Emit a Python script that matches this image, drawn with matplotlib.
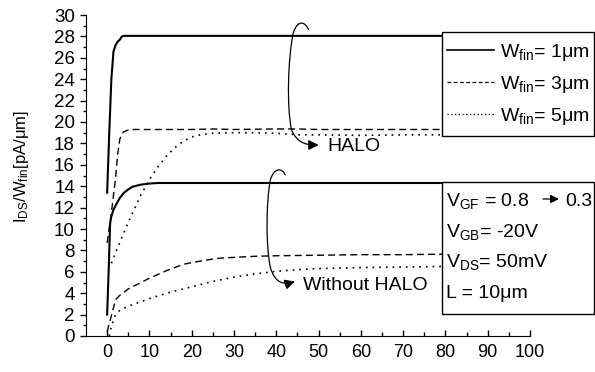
import numpy as np
import matplotlib
matplotlib.use("Agg")
import matplotlib.pyplot as plt
from matplotlib.path import Path
from matplotlib.patches import FancyArrowPatch, Rectangle
from matplotlib.lines import Line2D

plt.rcParams['font.family'] = ['Liberation Sans', 'DejaVu Sans']
plt.rcParams['mathtext.fontset'] = 'custom'
plt.rcParams['mathtext.rm'] = 'Liberation Sans'
plt.rcParams['mathtext.it'] = 'Liberation Sans:italic'
plt.rcParams['mathtext.bf'] = 'Liberation Sans:bold'

# ---------------- data ----------------
# HALO, Wfin = 1 um
halo_w1_x = [0, 0.5, 1, 1.5, 2, 2.5, 3, 3.5, 4, 10, 20, 30, 40, 50, 60, 70, 80]
halo_w1_y = [13.4, 19.0, 24.0, 26.6, 27.2, 27.5, 27.7, 28.0, 28.05, 28.05, 28.05, 28.05, 28.05, 28.05, 28.05, 28.05, 28.05]
# HALO, Wfin = 3 um
halo_w3_x = [0, 1, 2, 2.5, 3, 3.5, 4, 5, 6, 10, 20, 25, 30, 40, 45, 50, 60, 70, 80]
halo_w3_y = [8.7, 11.5, 14.8, 17.0, 18.4, 18.9, 19.1, 19.25, 19.3, 19.3, 19.3, 19.35, 19.3, 19.35, 19.35, 19.3, 19.3, 19.3, 19.3]
# HALO, Wfin = 5 um
halo_w5_x = [1, 2, 4, 6, 8, 10, 12, 14, 16, 18, 20, 22, 25, 30, 35, 40, 45, 50, 60, 70, 80]
halo_w5_y = [6.8, 7.8, 9.7, 11.5, 13.2, 14.6, 15.8, 16.8, 17.6, 18.2, 18.6, 18.8, 18.95, 19.0, 19.0, 18.95, 18.8, 18.8, 18.75, 18.8, 18.8]
# Without HALO, Wfin = 1 um
nohalo_w1_x = [0, 0.35, 0.7, 1, 1.5, 2, 3, 4, 5, 6, 8, 10, 12, 20, 30, 40, 50, 60, 70, 80]
nohalo_w1_y = [2.0, 6.0, 10.5, 11.2, 11.8, 12.2, 12.9, 13.4, 13.7, 13.95, 14.15, 14.25, 14.3, 14.3, 14.3, 14.3, 14.3, 14.3, 14.3, 14.3]
# Without HALO, Wfin = 3 um
nohalo_w3_x = [0, 1, 2, 3, 5, 8, 10, 14, 18, 22, 26, 30, 35, 40, 50, 60, 70, 80]
nohalo_w3_y = [0.4, 1.9, 3.4, 3.8, 4.4, 5.0, 5.4, 6.1, 6.7, 7.0, 7.25, 7.35, 7.45, 7.5, 7.55, 7.6, 7.6, 7.65]
# Without HALO, Wfin = 5 um
nohalo_w5_x = [0.5, 1, 2, 3, 5, 8, 10, 15, 20, 25, 30, 35, 40, 45, 50, 60, 70, 80]
nohalo_w5_y = [0.0, 0.9, 2.0, 2.4, 2.8, 3.2, 3.5, 4.1, 4.6, 5.1, 5.5, 5.8, 6.05, 6.2, 6.3, 6.4, 6.45, 6.5]

legend_labels = [r'W$_{\rm fin}$= 1μm', r'W$_{\rm fin}$= 3μm', r'W$_{\rm fin}$= 5μm']
cond_lines = [r'V$_{\rm GB}$= -20V', r'V$_{\rm DS}$= 50mV', 'L = 10μm']
xticks = list(range(0, 101, 10))
yticks = list(range(0, 31, 2))

# ---------------- figure ----------------
W, H = 595, 372
fig = plt.figure(figsize=(W / 100, H / 100), dpi=100)
fx = lambda px: px / W
fy = lambda py: 1 - py / H
ax = fig.add_axes([fx(86), fy(336), (530 - 86) / W, (336 - 15) / H])

solid = dict(color='black', lw=1.5, ls='-')
dashed = dict(color='black', lw=1.0, ls=(0, (5, 3)))
dotted = dict(color='black', lw=1.2, ls=(0, (1, 3)))

ax.plot(halo_w1_x, halo_w1_y, **solid)
ax.plot(halo_w3_x, halo_w3_y, **dashed)
ax.plot(halo_w5_x, halo_w5_y, **dotted)
ax.plot(nohalo_w1_x, nohalo_w1_y, **solid)
ax.plot(nohalo_w3_x, nohalo_w3_y, **dashed)
ax.plot(nohalo_w5_x, nohalo_w5_y, **dotted)

ax.set_xlim(-5, 100)
ax.set_ylim(0, 30)
ax.set_xticks(xticks)
ax.set_yticks(yticks)
ax.set_xticks(np.arange(5, 100, 10), minor=True)
ax.set_yticks(np.arange(1, 30, 2), minor=True)
ax.spines['top'].set_visible(False)
ax.spines['right'].set_visible(False)
ax.tick_params(axis='x', which='major', direction='in', length=4, width=1, pad=6, labelsize=13)
ax.tick_params(axis='x', which='minor', direction='in', length=3, width=1)
ax.tick_params(axis='y', which='major', direction='out', length=4, width=1, pad=4, labelsize=13.5)
ax.tick_params(axis='y', which='minor', direction='out', length=2.5, width=1)

ax.set_ylabel(r'I$_{\rm DS}$/W$_{\rm fin}$[pA/μm]', fontsize=12)
ax.yaxis.set_label_coords((31 - 86) / 444, (336 - 167) / 321)

# curved arrows
arrow_style = '-|>,head_length=0.6,head_width=0.3'
halo_path = Path([(47.6, 28.65), (46.8, 29.4), (45.0, 29.6), (44.0, 28.3),
                  (42.8, 26.0), (42.4, 21.5), (43.6, 19.3),
                  (45.0, 17.9), (47.5, 17.85), (50.0, 17.85)],
                 [Path.MOVETO, Path.CURVE4, Path.CURVE4, Path.CURVE4,
                  Path.CURVE4, Path.CURVE4, Path.CURVE4,
                  Path.CURVE4, Path.CURVE4, Path.CURVE4])
ax.add_patch(FancyArrowPatch(path=halo_path, arrowstyle=arrow_style, mutation_scale=10,
                             color='black', lw=0.9, transform=ax.transData))
ax.text(52, 17.75, 'HALO', fontsize=14, va='center', ha='left')

nohalo_path = Path([(42.1, 15.05), (41.5, 15.7), (39.5, 15.8), (38.6, 14.6),
                    (37.6, 12.5), (37.5, 8.5), (38.6, 6.4),
                    (39.8, 4.8), (42.0, 4.8), (44.4, 5.1)],
                   [Path.MOVETO, Path.CURVE4, Path.CURVE4, Path.CURVE4,
                    Path.CURVE4, Path.CURVE4, Path.CURVE4,
                    Path.CURVE4, Path.CURVE4, Path.CURVE4])
ax.add_patch(FancyArrowPatch(path=nohalo_path, arrowstyle=arrow_style, mutation_scale=10,
                             color='black', lw=0.9, transform=ax.transData))
ax.text(46.4, 4.7, 'Without HALO', fontsize=14, va='center', ha='left')

# legend box
fig.patches.append(Rectangle((fx(442), fy(136)), (594 - 442) / W, (136 - 32) / H,
                             transform=fig.transFigure, facecolor='white',
                             edgecolor='black', lw=1.0, zorder=2))
handles = [Line2D([], [], color='black', lw=1.2, ls='-'),
           Line2D([], [], color='black', lw=0.9, ls=(0, (3, 2))),
           Line2D([], [], color='black', lw=0.9, ls=(0, (1, 2)))]
fig.legend(handles, legend_labels, loc='upper left',
           bbox_to_anchor=(fx(447), fy(42)), bbox_transform=fig.transFigure,
           frameon=False, fontsize=14, handlelength=2.4, handletextpad=0.35,
           labelspacing=0.57, borderpad=0, borderaxespad=0)

# conditions box
fig.patches.append(Rectangle((fx(442), fy(314)), (594 - 442) / W, (314 - 182) / H,
                             transform=fig.transFigure, facecolor='white',
                             edgecolor='black', lw=1.0, zorder=2))
fig.text(fx(446), fy(201), r'V$_{\rm GF}$ = 0.8', fontsize=14, va='center', ha='left', zorder=3)
fig.text(fx(565), fy(201), '0.3', fontsize=14, va='center', ha='left', zorder=3)
fig.add_artist(FancyArrowPatch((fx(543), fy(199)), (fx(559), fy(199)),
                               transform=fig.transFigure, arrowstyle='-|>,head_length=0.5,head_width=0.25',
                               mutation_scale=10, color='black', lw=0.9, shrinkA=0, shrinkB=0, zorder=3))
for i, t in enumerate(cond_lines):
    fig.text(fx(446), fy(232 + i * 30.5), t, fontsize=14, va='center', ha='left', zorder=3)

fig.savefig('out.png', dpi=100)
